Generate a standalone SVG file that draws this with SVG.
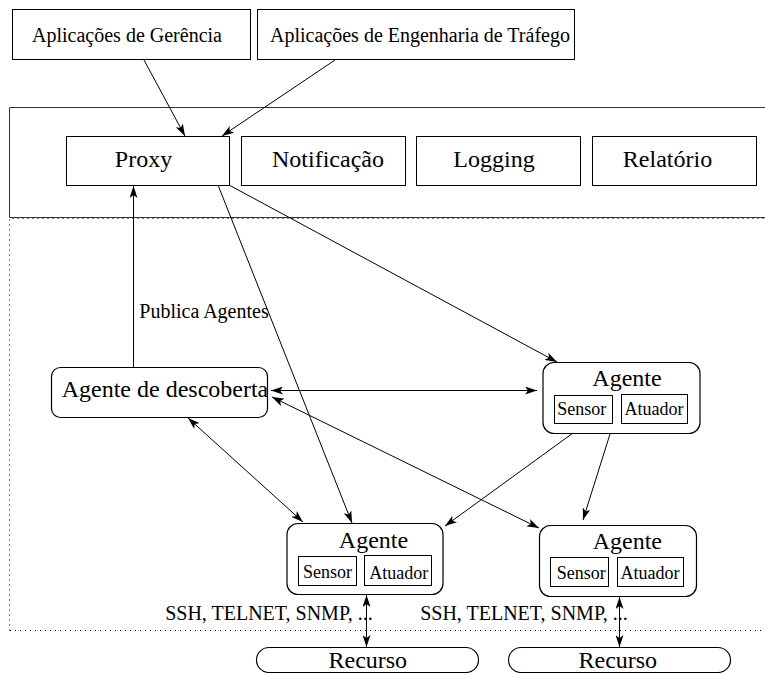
<svg xmlns="http://www.w3.org/2000/svg" width="765" height="673" viewBox="0 0 765 673">
  <style>
    .box { fill: #fff; stroke: #000; stroke-width: 1; }
    .rbox { fill: #fff; stroke: #000; stroke-width: 1.2; }
    text { font-family: 'Liberation Serif', 'Times New Roman', serif; fill: #000; text-anchor: middle; }
    .t20 { font-size: 20px; }
    .t24 { font-size: 24px; }
    .t18 { font-size: 18px; }
    .edge { fill: none; stroke: #000; stroke-width: 1; }
    .dots { fill: none; stroke: #000; stroke-width: 1; stroke-dasharray: 1 4; }
  </style>
  <defs>
    <marker id="ah" viewBox="0 0 12 8" refX="12" refY="4" markerWidth="12" markerHeight="8" orient="auto-start-reverse" markerUnits="userSpaceOnUse">
      <path d="M0,0 L12,4 L0,8 L3,4 z" fill="#000"/>
    </marker>
  </defs>

  <rect width="765" height="673" fill="#fff"/>

  <!-- service layer frame and monitored domain boundary -->
  <g id="frames">
    <path d="M9.5,630.5 L9.5,218.5 L766,218.5" class="dots"/>
    <path d="M766,630.5 L9.5,630.5" class="dots"/>
    <path d="M770,107.5 L9.5,107.5 L9.5,217.5 L770,217.5" fill="none" stroke="#333" stroke-width="1"/>
  </g>

  <!-- applications -->
  <g id="app-gerencia">
    <rect class="box" x="12.5" y="9.5" width="238" height="50"/>
    <text class="t20" x="127" y="41.5">Aplicações de Gerência</text>
  </g>
  <g id="app-trafego">
    <rect class="box" x="257.5" y="9.5" width="317" height="50"/>
    <text class="t20" x="420" y="41.5">Aplicações de Engenharia de Tráfego</text>
  </g>

  <!-- services -->
  <g id="proxy">
    <rect class="box" x="66.5" y="136.5" width="163" height="49"/>
    <text class="t24" x="143.5" y="167">Proxy</text>
  </g>
  <g id="notificacao">
    <rect class="box" x="241.5" y="136.5" width="164" height="49"/>
    <text class="t24" x="328" y="167">Notificação</text>
  </g>
  <g id="logging">
    <rect class="box" x="416.5" y="136.5" width="164" height="49"/>
    <text class="t24" x="494" y="167">Logging</text>
  </g>
  <g id="relatorio">
    <rect class="box" x="592.5" y="136.5" width="164" height="49"/>
    <text class="t24" x="667.5" y="167">Relatório</text>
  </g>

  <!-- agents -->
  <g id="descoberta">
    <rect class="rbox" x="51.5" y="367.5" width="216" height="50" rx="9"/>
    <text class="t24" x="165" y="397">Agente de descoberta</text>
  </g>
  <g id="agente-1">
    <rect class="rbox" x="543" y="362.5" width="157" height="71" rx="11"/>
    <text class="t24" x="627" y="386">Agente</text>
    <rect class="box" x="554.5" y="395.5" width="58" height="28"/>
    <text class="t18" x="581.7" y="415">Sensor</text>
    <rect class="box" x="621.5" y="394.5" width="66" height="29"/>
    <text class="t18" x="654" y="415">Atuador</text>
  </g>
  <g id="agente-2">
    <rect class="rbox" x="287" y="523.5" width="156" height="71" rx="11"/>
    <text class="t24" x="373.5" y="548">Agente</text>
    <rect class="box" x="298.5" y="556.5" width="58" height="29"/>
    <text class="t18" x="327.5" y="578">Sensor</text>
    <rect class="box" x="364.5" y="555.5" width="67" height="30"/>
    <text class="t18" x="398.7" y="579">Atuador</text>
  </g>
  <g id="agente-3">
    <rect class="rbox" x="539.5" y="525.5" width="157" height="71" rx="11"/>
    <text class="t24" x="627.3" y="549">Agente</text>
    <rect class="box" x="550.5" y="557.5" width="58" height="29"/>
    <text class="t18" x="581.3" y="579">Sensor</text>
    <rect class="box" x="617.5" y="557.5" width="66" height="29"/>
    <text class="t18" x="650" y="579">Atuador</text>
  </g>

  <!-- managed resources -->
  <g id="recurso-1">
    <rect class="rbox" x="256.5" y="647.5" width="222" height="25" rx="12.5"/>
    <text class="t24" x="367.8" y="668">Recurso</text>
  </g>
  <g id="recurso-2">
    <rect class="rbox" x="508.5" y="647.5" width="222" height="25" rx="12.5"/>
    <text class="t24" x="617.8" y="668">Recurso</text>
  </g>

  <!-- connectors -->
  <g id="connectors">
    <line class="edge" x1="144" y1="60" x2="185" y2="136" marker-end="url(#ah)"/>
    <line class="edge" x1="335" y1="60" x2="222" y2="136" marker-end="url(#ah)"/>
    <line class="edge" x1="133.5" y1="367" x2="133.5" y2="186" marker-end="url(#ah)"/>
    <line class="edge" x1="229" y1="185" x2="557" y2="362" marker-end="url(#ah)"/>
    <line class="edge" x1="218" y1="185" x2="352" y2="523" marker-end="url(#ah)"/>
    <line class="edge" x1="271" y1="390.5" x2="537" y2="390.5" marker-start="url(#ah)" marker-end="url(#ah)"/>
    <line class="edge" x1="272" y1="397" x2="539" y2="528" marker-start="url(#ah)" marker-end="url(#ah)"/>
    <line class="edge" x1="188" y1="418" x2="303" y2="522" marker-start="url(#ah)" marker-end="url(#ah)"/>
    <line class="edge" x1="573" y1="433" x2="445" y2="526" marker-end="url(#ah)"/>
    <line class="edge" x1="610" y1="434" x2="583" y2="520" marker-end="url(#ah)"/>
    <line class="edge" x1="366.5" y1="595" x2="366.5" y2="647" marker-start="url(#ah)" marker-end="url(#ah)"/>
    <line class="edge" x1="619.5" y1="597" x2="619.5" y2="647" marker-start="url(#ah)" marker-end="url(#ah)"/>
  </g>

  <!-- connector labels -->
  <g id="labels">
    <text class="t20" x="204" y="318">Publica Agentes</text>
    <text class="t20" x="269" y="620">SSH, TELNET, SNMP, ...</text>
    <text class="t20" x="524" y="620">SSH, TELNET, SNMP, ...</text>
  </g>
</svg>
